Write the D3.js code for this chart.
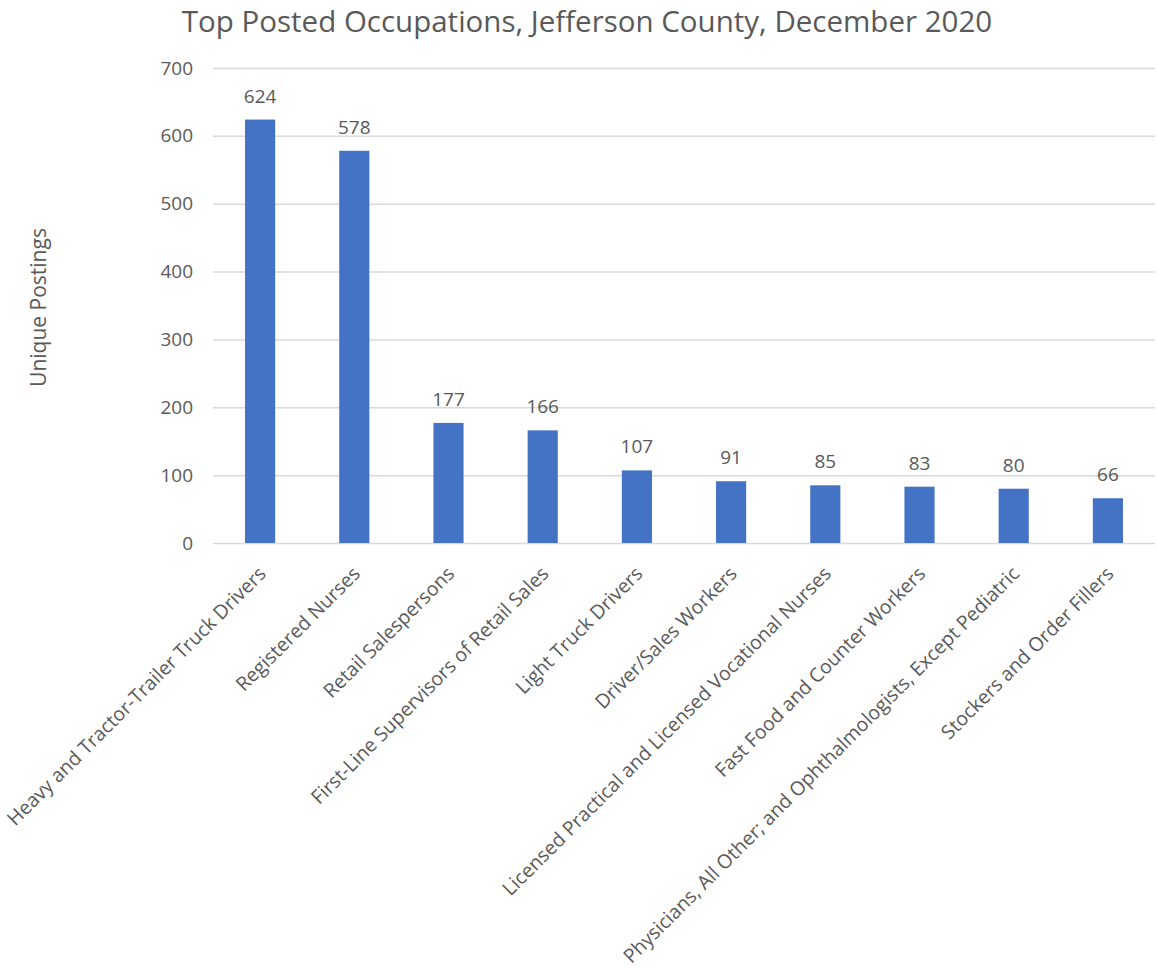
<!DOCTYPE html>
<html><head><meta charset="utf-8">
<script src="https://cdn.jsdelivr.net/npm/d3@7"></script>
<style>body{margin:0;background:#fff;}text{font-family:"Open Sans","Noto Sans",sans-serif;}</style>
</head><body>
<svg id="c" width="1157" height="968"></svg>
<script>
const categories = ["Heavy and Tractor-Trailer Truck Drivers","Registered Nurses","Retail Salespersons","First-Line Supervisors of Retail Sales","Light Truck Drivers","Driver/Sales Workers","Licensed Practical and Licensed Vocational Nurses","Fast Food and Counter Workers","Physicians, All Other; and Ophthalmologists, Except Pediatric","Stockers and Order Fillers"];
const values = [624,578,177,166,107,91,85,83,80,66];
const yTicks = [0,100,200,300,400,500,600,700];

const svg = d3.select("#c");
const mLeft = 213, mRight = 1155, mTop = 68, mBottom = 543;
const x = d3.scaleBand().domain(categories).range([mLeft, mRight]).paddingInner(0.68).paddingOuter(0.34);
const y = d3.scaleLinear().domain([0,700]).range([mBottom, mTop]);
const grey = "#595959";

svg.append("text").attr("x",587).attr("y",32).attr("text-anchor","middle")
  .attr("font-size",29.5).attr("fill",grey).text("Top Posted Occupations, Jefferson County, December 2020");

const ya = svg.append("g").attr("transform",`translate(${mLeft},0)`)
  .call(d3.axisLeft(y).tickValues(yTicks).tickSize(-(mRight-mLeft)).tickPadding(20));
ya.select(".domain").remove();
ya.selectAll(".tick line").attr("stroke","#d9d9d9").attr("stroke-width",1.5);
ya.selectAll(".tick text").attr("font-size",19).attr("fill",grey);

svg.append("text").attr("transform",`translate(46,${(mTop+mBottom)/2+2}) rotate(-90)`)
  .attr("text-anchor","middle").attr("font-size",21).attr("fill",grey).text("Unique Postings");

svg.selectAll("rect.bar").data(values).enter().append("rect").attr("class","bar")
  .attr("x",(d,i)=>x(categories[i])).attr("width",x.bandwidth())
  .attr("y",d=>y(d)).attr("height",d=>mBottom-y(d)).attr("fill","#4472c4");

svg.selectAll("text.val").data(values).enter().append("text").attr("class","val")
  .attr("x",(d,i)=>x(categories[i])+x.bandwidth()/2).attr("y",d=>y(d)-17)
  .attr("text-anchor","middle").attr("font-size",19).attr("fill",grey).text(d=>d);

const xa = svg.append("g").attr("transform",`translate(0,${mBottom})`)
  .call(d3.axisBottom(x).tickSize(0).tickPadding(0));
xa.select(".domain").remove();
xa.selectAll(".tick text").attr("font-size",19.5).attr("fill",grey)
  .attr("text-anchor","end").attr("dy",0).attr("x",0).attr("y",0)
  .attr("transform","translate(7,32) rotate(-45)");
</script>
</body></html>
